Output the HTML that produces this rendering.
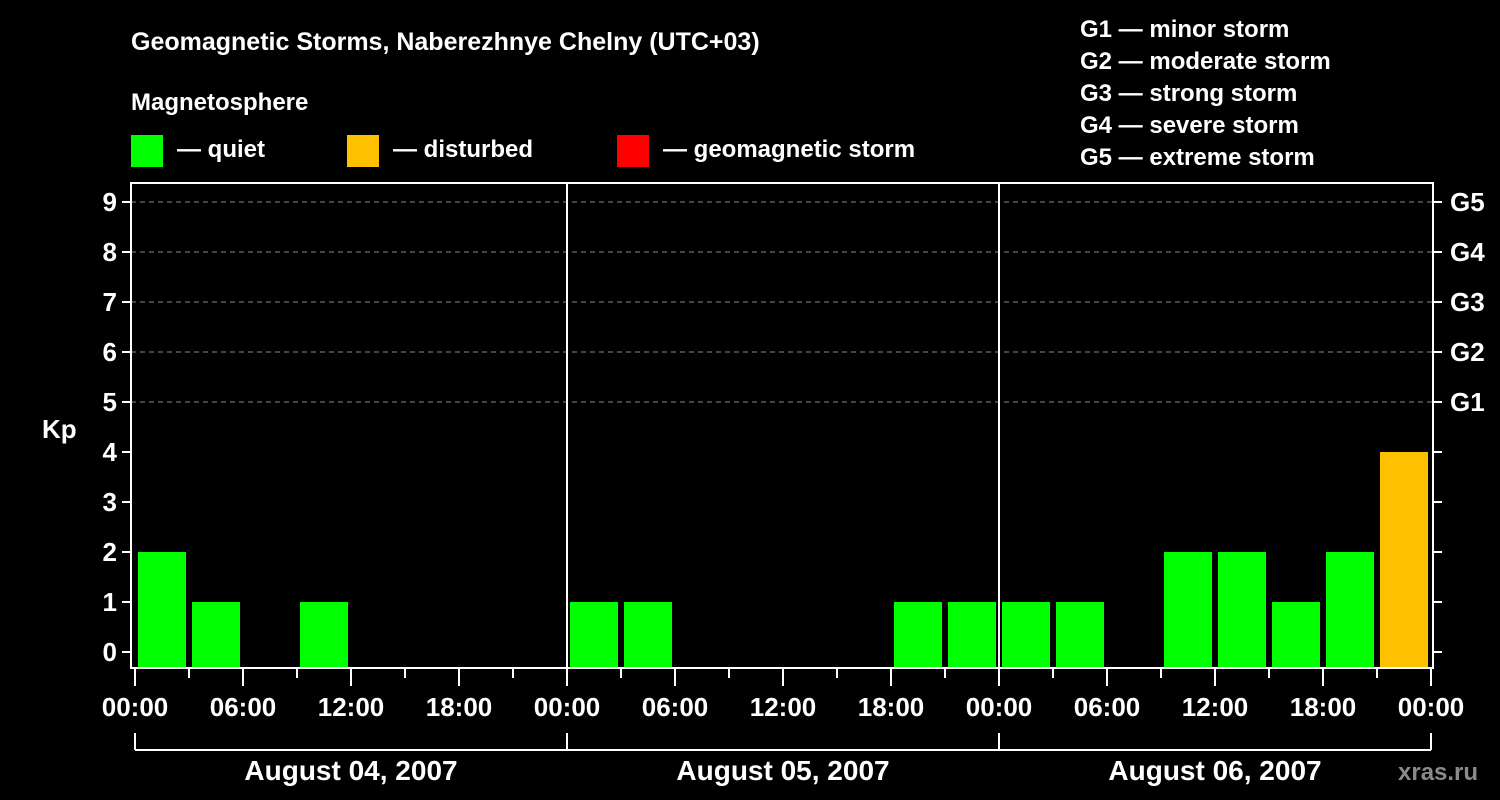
<!DOCTYPE html>
<html><head><meta charset="utf-8"><style>
html,body{margin:0;padding:0;background:#000;width:1500px;height:800px;overflow:hidden}
svg text{font-family:"Liberation Sans",sans-serif;font-weight:bold;fill:#fff}
</style></head><body>
<svg id="chart" width="1500" height="800">
<text x="131" y="50" font-size="25">Geomagnetic Storms, Naberezhnye Chelny (UTC+03)</text>
<text x="131" y="110" font-size="24">Magnetosphere</text>
<rect x="131" y="135" width="32" height="32" fill="#00ff00"/>
<text x="177" y="157" font-size="24">— quiet</text>
<rect x="347" y="135" width="32" height="32" fill="#ffc000"/>
<text x="393" y="157" font-size="24">— disturbed</text>
<rect x="617" y="135" width="32" height="32" fill="#ff0000"/>
<text x="663" y="157" font-size="24">— geomagnetic storm</text>
<g font-size="24">
<text x="1080" y="37">G1 — minor storm</text>
<text x="1080" y="69">G2 — moderate storm</text>
<text x="1080" y="101">G3 — strong storm</text>
<text x="1080" y="133">G4 — severe storm</text>
<text x="1080" y="165">G5 — extreme storm</text>
</g>
<text x="42" y="438" font-size="26">Kp</text>
<text x="1398" y="780" font-size="24" fill="#888" style="fill:#8a8a8a">xras.ru</text>
<g id="grid"></g><g id="bars"></g><g id="axes"></g>
</svg>
<script>
const days = ["August 04, 2007","August 05, 2007","August 06, 2007"];
const kpValues = [2,1,0,1,0,0,0,0, 1,1,0,0,0,0,1,1, 1,1,0,2,2,1,2,4];
const hourLabels = ["00:00","06:00","12:00","18:00"];
const yTicks = [0,1,2,3,4,5,6,7,8,9];
const gLevels = ["G1","G2","G3","G4","G5"];
const NS="http://www.w3.org/2000/svg";
const X0=135, PXH=18, L=131, R=1433, T=183, B=668;
const xs=h=>X0+h*PXH, ys=v=>652-v*50;
function mk(p,tag,a){const e=document.createElementNS(NS,tag);for(const k in a)e.setAttribute(k,a[k]);p.appendChild(e);return e;}
const grid=document.getElementById('grid'),bars=document.getElementById('bars'),axes=document.getElementById('axes');
yTicks.forEach(v=>{
 if(v>=5){const l=mk(grid,'line',{x1:L,x2:R,y1:ys(v),y2:ys(v),stroke:'#888','stroke-dasharray':'5,4','stroke-width':1});
 
 }
 const t=mk(axes,'line',{x1:L-9,x2:L,y1:ys(v),y2:ys(v),stroke:'#fff','stroke-width':2});
 
 
 const t2=mk(axes,'line',{x1:R,x2:R+9,y1:ys(v),y2:ys(v),stroke:'#fff','stroke-width':2});
 
 
 const tx=mk(axes,'text',{x:L-14,y:ys(v)+9,'text-anchor':'end','font-size':26});tx.textContent=v;
 
 
});
gLevels.forEach((g,i)=>{const tx=mk(axes,'text',{x:1450,y:ys(5+i)+9,'font-size':26});tx.textContent=g;
 
 });
kpValues.forEach((v,i)=>{if(v<=0)return;
 const c=v>=5?'#ff0000':(v>=4?'#ffc000':'#00ff00');
 const r=mk(bars,'rect',{x:xs(i*3)+3,y:ys(v),width:48,height:B-ys(v),fill:c});
 
 });
const fr=mk(axes,'rect',{x:L,y:T,width:R-L,height:B-T,fill:'none',stroke:'#fff','stroke-width':2});


for(let d=1;d<days.length;d++){const l=mk(axes,'line',{x1:xs(d*24),x2:xs(d*24),y1:T,y2:B,stroke:'#fff','stroke-width':2});
 
 }
for(let h=0;h<=days.length*24;h+=3){const maj=h%6===0;
 const l=mk(axes,'line',{x1:xs(h),x2:xs(h),y1:B,y2:maj?686:678,stroke:'#fff','stroke-width':2});
 
 
 if(maj){const tx=mk(axes,'text',{x:xs(h),y:716,'text-anchor':'middle','font-size':26});tx.textContent=hourLabels[(h/6)%4];
 
 }}
mk(axes,'line',{x1:xs(0),x2:xs(days.length*24),y1:750,y2:750,stroke:'#fff','stroke-width':2});
days.forEach((d,i)=>{
 const l=mk(axes,'line',{x1:xs(i*24),x2:xs(i*24),y1:733,y2:750,stroke:'#fff','stroke-width':2});
 
 
 const tx=mk(axes,'text',{x:xs(i*24+12),y:780,'text-anchor':'middle','font-size':28});tx.textContent=d;
 
 });
const le=mk(axes,'line',{x1:xs(days.length*24),x2:xs(days.length*24),y1:733,y2:750,stroke:'#fff','stroke-width':2});


</script>
</body></html>
